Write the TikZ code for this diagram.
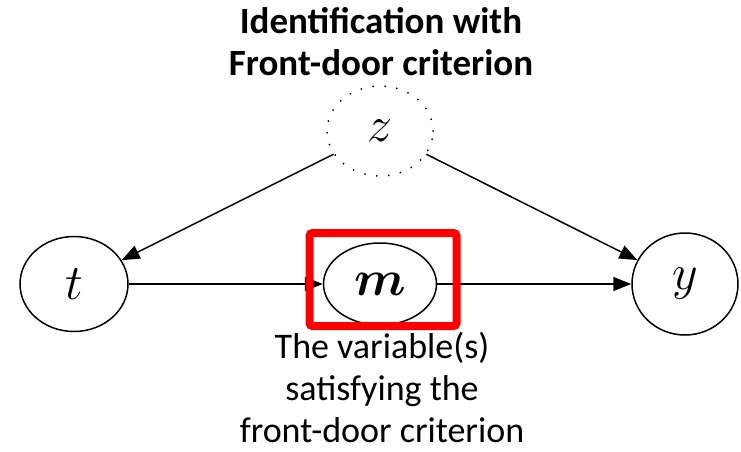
\RequirePackage{fix-cm}
\documentclass[tikz,border=0pt]{standalone}
\usepackage{fontspec}
\usepackage{amsmath,bm}
\setmainfont{Carlito}
\usetikzlibrary{shapes.geometric,arrows.meta}
\begin{document}
\begin{tikzpicture}[x=1pt,y=-1pt,
  var/.style={ellipse,draw=black,line width=1.5pt,inner sep=0pt,
    font=\fontsize{50}{60}\selectfont},
  conn/.style={line width=1.5pt,-{Triangle[length=18pt,width=14pt]}},
  label/.style={align=center,inner sep=0pt,font=\fontsize{36}{42}\selectfont}]
\useasboundingbox (0,0) rectangle (741,452);
\node[var,draw=none,minimum width=106pt,minimum height=90pt] (z) at (380,131) {$z$};
\draw[line width=2pt,dash pattern=on 0pt off 12pt,line cap=round] (z.center) ellipse [x radius=53pt,y radius=45pt];
\node[var,minimum width=108pt,minimum height=95pt] (t) at (74,284) {$t$};
\node[var,minimum width=113pt,minimum height=82pt] (m) at (380,284) {$\bm{m}$};
\node[var,minimum width=106pt,minimum height=102pt] (y) at (685,284) {$y$};
\draw[conn] (z) -- (t);
\draw[conn] (z) -- (y);
\draw[conn] (t) -- (m);
\draw[conn] (m) -- (y);
\node[draw=red,line width=8pt,rounded corners=3pt,minimum width=147pt,minimum height=93pt,inner sep=0pt] (box) at (383,279.5) {};
\node[label,font=\fontsize{37}{42}\selectfont\bfseries] (title) at (381,42) {Identification with\\Front-door criterion};
\node[label] (desc) at (382,387) {The variable(s)\\satisfying the\\front-door criterion};
\end{tikzpicture}
\end{document}
